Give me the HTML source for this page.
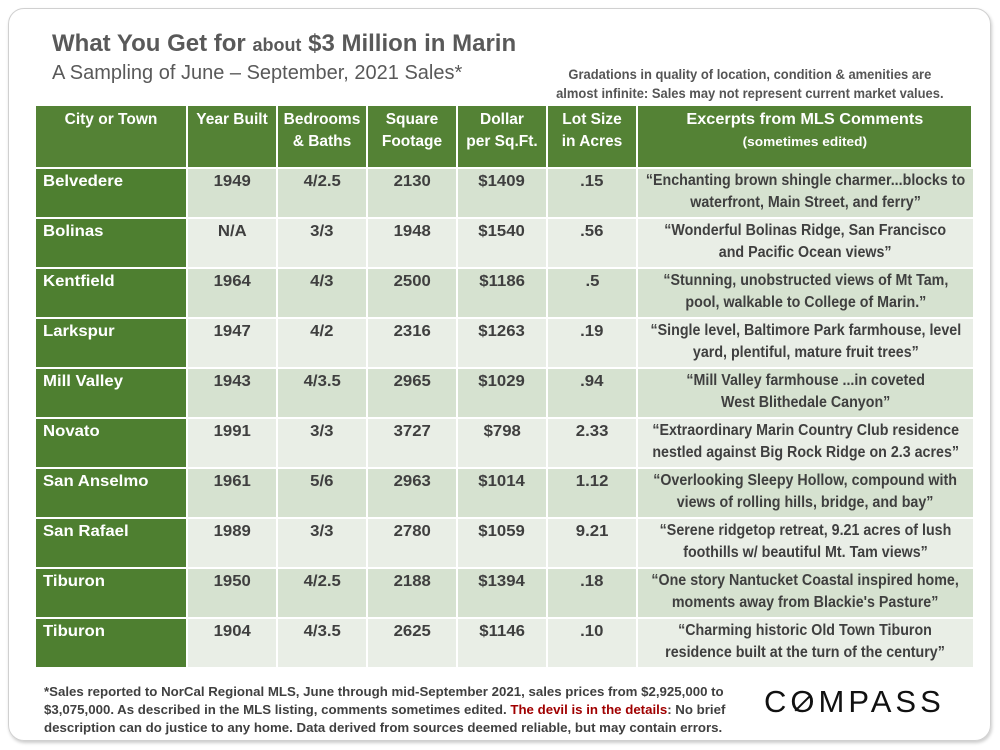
<!DOCTYPE html>
<html><head><meta charset="utf-8"><style>
body{margin:0;width:1000px;height:750px;background:#fff;font-family:"Liberation Sans",sans-serif;position:relative;overflow:hidden}
.card{position:absolute;left:8px;top:8px;width:981px;height:731px;border:1.5px solid #d0d0d0;border-radius:16px;box-shadow:1px 2px 3px #ccc}
.abs{position:absolute}
.cell{position:absolute;display:flex;align-items:flex-start;justify-content:center;font-weight:bold;font-size:15.5px;color:#3f3f3f;box-sizing:border-box;padding-top:4px;text-align:center;line-height:22px;white-space:nowrap}
.sq{display:inline-block;transform:scaleX(.97);transform-origin:center top}
</style></head><body>
<div class="card"></div>
<div class="abs" style="left:52px;top:30px;font-size:24px;font-weight:bold;color:#595959;white-space:nowrap"><span class="sq" style="transform-origin:left top;transform:scaleX(1.0)">What You Get for <span style="font-size:18px">about</span> $3 Million in Marin</span></div>
<div class="abs" style="left:52px;top:62px;font-size:20px;color:#595959;white-space:nowrap"><span class="sq" style="transform-origin:left top;transform:scaleX(1.0)">A Sampling of June – September, 2021 Sales*</span></div>
<div class="abs" style="left:520px;top:65px;width:460px;text-align:center;font-size:13.5px;font-weight:bold;color:#555;line-height:19px;white-space:nowrap"><span class="sq" style="transform:scaleX(.96)">Gradations in quality of location, condition &amp; amenities are<br>almost infinite: Sales may not represent current market values.</span></div>
<div id="tbl"></div>
<div class="abs" style="left:44px;top:683px;width:690px;font-size:12.5px;font-weight:bold;color:#404040;line-height:18px;white-space:nowrap"><span class="sq" style="transform-origin:left top;transform:scaleX(1.06)">*Sales reported to NorCal Regional MLS, June through mid-September 2021, sales prices from $2,925,000 to<br>$3,075,000. As described in the MLS listing, comments sometimes edited. <span style="color:#a00000">The devil is in the details</span>: No brief<br>description can do justice to any home. Data derived from sources deemed reliable, but may contain errors.</span></div>
<div class="abs" style="left:764px;top:684px;font-size:31px;letter-spacing:4px;color:#111;font-weight:normal">C<span style="display:inline-block;position:relative">O<span style="position:absolute;left:2px;top:18px;width:22px;height:2px;background:#111;transform:rotate(-45deg)"></span></span>MPASS</div>
<script>
const cities=["Belvedere","Bolinas","Kentfield","Larkspur","Mill Valley","Novato","San Anselmo","San Rafael","Tiburon","Tiburon"];
const years=["1949","N/A","1964","1947","1943","1991","1961","1989","1950","1904"];
const beds=["4/2.5","3/3","4/3","4/2","4/3.5","3/3","5/6","3/3","4/2.5","4/3.5"];
const sqft=["2130","1948","2500","2316","2965","3727","2963","2780","2188","2625"];
const ppsf=["$1409","$1540","$1186","$1263","$1029","$798","$1014","$1059","$1394","$1146"];
const lots=[".15",".56",".5",".19",".94","2.33","1.12","9.21",".18",".10"];
const comments=[
["“Enchanting brown shingle charmer...blocks to","waterfront, Main Street, and ferry”"],
["“Wonderful Bolinas Ridge, San Francisco","and Pacific Ocean views”"],
["“Stunning, unobstructed views of Mt Tam,","pool,  walkable to College of Marin.”"],
["“Single level, Baltimore Park farmhouse, level","yard, plentiful, mature fruit trees”"],
["“Mill Valley farmhouse ...in coveted","West Blithedale Canyon”"],
["“Extraordinary Marin Country Club residence","nestled against Big Rock Ridge on 2.3 acres”"],
["“Overlooking Sleepy Hollow, compound with","views of rolling hills, bridge, and bay”"],
["“Serene ridgetop retreat, 9.21 acres of lush","foothills w/ beautiful Mt. Tam views”"],
["“One story Nantucket Coastal inspired home,","moments away from Blackie's Pasture”"],
["“Charming historic Old Town Tiburon","residence built at the turn of the century”"]];
const headers=["City or Town","Year Built","Bedrooms<br>&amp; Baths","Square<br>Footage","Dollar<br>per Sq.Ft.","Lot Size<br>in Acres","Excerpts from MLS Comments<br><span style='font-size:13px'>(sometimes edited)</span>"];
const colX=[36,188,278,368,458,548,638,973];
const tbl=document.getElementById('tbl');
function cell(x,y,w,h,bg,html,name,extra){
  const d=document.createElement('div');
  d.className='cell';
  
  
  d.style.cssText=`left:${x}px;top:${y}px;width:${w}px;height:${h}px;background:${bg};`+(extra||'');
  d.innerHTML=html;
  tbl.appendChild(d);
}
for(let c=0;c<7;c++){
  cell(colX[c],106,colX[c+1]-colX[c]-2,61,'#548235',`<span class="sq" style="transform:scaleX(${c===6?1.05:1})">${headers[c]}</span>`,'header-cell','color:#fff;padding-top:3px;');
}
const cols=[years,beds,sqft,ppsf,lots];
for(let r=0;r<cities.length;r++){
  const y=169+r*50, h=48, bg=r%2===0?'#d6e2d0':'#e9eee6';
  cell(colX[0],y,colX[1]-colX[0]-2,h,'#4e7f30',`<span class="sq" style="transform-origin:left top;transform:scaleX(1.08)">${cities[r]}</span>`,'city-cell','color:#fff;justify-content:flex-start;padding-left:7px;padding-top:2px;');
  for(let c=0;c<5;c++) cell(colX[c+1],y,colX[c+2]-colX[c+1]-2,h,bg,`<span class="sq" style="transform:scaleX(1.08)">${cols[c][r]}</span>`,'value-cell','padding-top:2px;');
  cell(colX[6],y,colX[7]-colX[6],h,bg,`<span class="sq" style="transform:scaleX(.92)">${comments[r][0]}<br>${comments[r][1]}</span>`,'comment-cell','padding-top:1px;');
}
</script>
</body></html>
